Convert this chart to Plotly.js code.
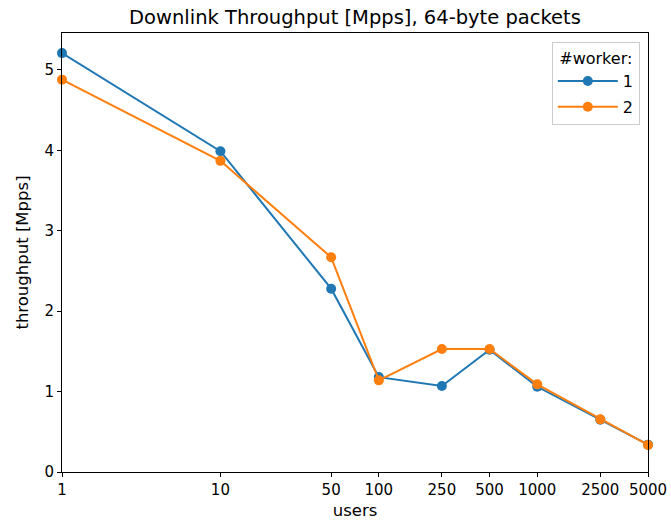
<!DOCTYPE html>
<html>
<head>
<meta charset="utf-8">
<script src="https://cdn.plot.ly/plotly-3.0.1.min.js"></script>
<style>html,body{margin:0;padding:0;background:#fff;}</style>
</head>
<body>
<div id="chart" style="width:671px;height:525px;"></div>
<script>
const users = [1, 10, 50, 100, 250, 500, 1000, 2500, 5000];
const tickLabels = ["1", "10", "50", "100", "250", "500", "1000", "2500", "5000"];
const worker1 = [5.21, 3.99, 2.28, 1.18, 1.07, 1.52, 1.06, 0.65, 0.34];
const worker2 = [4.88, 3.87, 2.67, 1.14, 1.53, 1.53, 1.09, 0.655, 0.336];
const seriesNames = ["1", "2"];
const colors = ["#1f77b4", "#ff7f0e"];

const mk = (y, i) => ({
  x: users, y: y, name: seriesNames[i], type: "scatter", mode: "lines+markers",
  legendgroup: "g" + i,
  line: {color: colors[i], width: 2},
  marker: {color: colors[i], size: 10},
  cliponaxis: false
});

const axisCommon = {
  showline: true, linecolor: "#000", linewidth: 1, mirror: true,
  ticks: "outside", ticklen: 4, tickwidth: 1, tickcolor: "#000",
  showgrid: false, zeroline: false,
  tickfont: {family: "DejaVu Sans", size: 15, color: "#000"}
};

const layout = {
  width: 671, height: 525,
  margin: {l: 62, r: 23, t: 33, b: 53},
  paper_bgcolor: "#fff", plot_bgcolor: "#fff",
  font: {family: "DejaVu Sans", color: "#000"},
  title: {text: "Downlink Throughput [Mpps], 64-byte packets", xref: "paper", x: 0.5, xanchor: "center", y: 0.967, yanchor: "middle",
          font: {family: "DejaVu Sans", size: 19.5, color: "#000"}},
  xaxis: Object.assign({}, axisCommon, {
    type: "log", range: [0, Math.log10(5000)],
    tickmode: "array", tickvals: users, ticktext: tickLabels,
    title: {text: "users", font: {family: "DejaVu Sans", size: 16.5, color: "#000"}, standoff: 6}
  }),
  yaxis: Object.assign({}, axisCommon, {
    range: [0, 5.46], tickmode: "array", tickvals: [0,1,2,3,4,5],
    title: {text: "throughput [Mpps]", font: {family: "DejaVu Sans", size: 16.5, color: "#000"}, standoff: 11}
  }),
  showlegend: true,
  legend: {
    x: 0.986, xanchor: "right", y: 0.979, yanchor: "top",
    bgcolor: "rgba(255,255,255,0.8)", bordercolor: "#cccccc", borderwidth: 1,
    font: {family: "DejaVu Sans", size: 16, color: "#000"},
    title: {text: "#worker:", side: "top center", font: {family: "DejaVu Sans", size: 16, color: "#000"}},
    itemwidth: 60, traceorder: "grouped", tracegroupgap: 2
  }
};

Plotly.newPlot("chart", [mk(worker1, 0), mk(worker2, 1)], layout, {displayModeBar: false, staticPlot: true});
</script>
</body>
</html>
